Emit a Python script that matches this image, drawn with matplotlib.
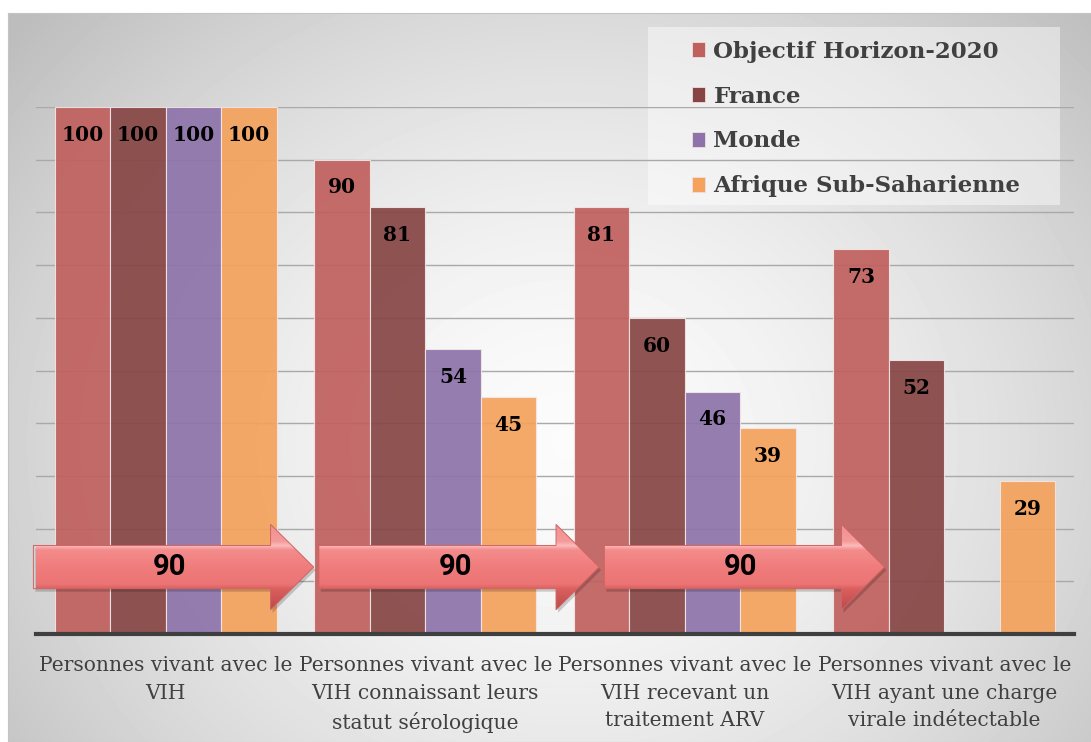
import numpy as np
import matplotlib.pyplot as plt
from matplotlib.patches import Polygon, Rectangle
from matplotlib.colors import LinearSegmentedColormap
from matplotlib.transforms import offset_copy

# --- data ---
categories = [
    "Personnes vivant avec le\nVIH",
    "Personnes vivant avec le\nVIH connaissant leurs\nstatut sérologique",
    "Personnes vivant avec le\nVIH recevant un\ntraitement ARV",
    "Personnes vivant avec le\nVIH ayant une charge\nvirale indétectable",
]
series_names = ["Objectif Horizon-2020", "France", "Monde", "Afrique Sub-Saharienne"]
objectif = [100, 90, 81, 73]
france = [100, 81, 60, 52]
monde = [100, 54, 46, np.nan]
afrique = [100, 45, 39, 29]
targets = [90, 90, 90]
colors = ["#c0605e", "#864544", "#8e73aa", "#f4a25c"]

W, H = 1091, 742
fig = plt.figure(figsize=(W / 100, H / 100), dpi=100)

# background panel with a soft radial gradient
bg = fig.add_axes([8 / W, 0, 1 - 8 / W, 1 - 13 / H], zorder=0)
yy, xx = np.mgrid[0:729, 0:1083]
d = np.sqrt(((xx - 560) / 640) ** 2 + ((yy - 430) / 560) ** 2)
v = np.clip(0.985 - 0.2 * d ** 1.6, 0.74, 1)
bg.imshow(v, cmap="gray", vmin=0, vmax=1, aspect="auto", interpolation="bilinear")
bg.set_xticks([])
bg.set_yticks([])
for s in bg.spines.values():
    s.set_color("#c4c4c4")

# legend backdrop (between background and chart)
fig.patches.append(Rectangle((648 / W, 1 - 205 / H), 412 / W, 178 / H,
                             transform=fig.transFigure, facecolor="white", alpha=0.45,
                             edgecolor="none", zorder=0.5))

# main axes
ax = fig.add_axes([36 / W, 1 - 634 / H, (1074 - 36) / W, (634 - 107) / H], zorder=1)
ax.patch.set_alpha(0)

x = np.arange(len(categories))
w = 0.2139
all_series = [objectif, france, monde, afrique]
handles = []
for j, (vals, c) in enumerate(zip(all_series, colors)):
    pos = x + (j - 1.5) * w
    ax.bar(pos, vals, width=w, color=c, alpha=0.92, edgecolor="#f3e6e6",
           linewidth=0.8, zorder=2)
    handles.append(Rectangle((0, 0), 1, 1, facecolor=c, edgecolor="#f0dede", lw=0.6))
    for px, val in zip(pos, vals):
        if np.isnan(val):
            continue
        ax.annotate(str(int(val)), (px, val), xytext=(0, -20), textcoords="offset points",
                    ha="center", va="center", fontsize=14.5, fontweight="bold",
                    family="DejaVu Serif", color="black", zorder=5)

ax.set_xlim(-0.5, 3.5)
ax.set_ylim(0, 100)
ax.set_yticks(range(0, 101, 10))
ax.yaxis.grid(True, color="#a9a9a9", lw=1)
ax.set_axisbelow(True)
ax.tick_params(axis="y", length=0, labelleft=False)
for s in ["top", "left", "right"]:
    ax.spines[s].set_visible(False)
ax.spines["bottom"].set_color("#3f3f3f")
ax.spines["bottom"].set_linewidth(3)
ax.set_xticks(x)
ax.set_xticklabels(categories, fontsize=14.6, color="#404040", family="DejaVu Serif",
                   linespacing=1.56)
ax.tick_params(axis="x", length=0, pad=16)

# "90" arrows
arrow_cmap = LinearSegmentedColormap.from_list("arr", [
    (0.0, "#bc4848"), (0.25, "#dc6060"), (0.3, "#ec7474"), (0.5, "#f07c7c"),
    (0.7, "#f48c8c"), (0.75, "#fbbcbc"), (0.8, "#f59a9a"), (1.0, "#f29090")])
grad = np.linspace(0, 1, 256).reshape(-1, 1)
L, hl, yc, sh, hh = 1.08, 0.166, 12.7, 4.1, 8.1
shadow_tr = offset_copy(ax.transData, fig=fig, x=2, y=-3, units="dots")
for i, t in enumerate(targets):
    x0 = -0.51 + 1.1 * i
    pts = [(x0, yc - sh), (x0 + L - hl, yc - sh), (x0 + L - hl, yc - hh), (x0 + L, yc),
           (x0 + L - hl, yc + hh), (x0 + L - hl, yc + sh), (x0, yc + sh)]
    ax.add_patch(Polygon(pts, closed=True, facecolor="black", alpha=0.18, lw=0,
                         transform=shadow_tr, zorder=3, clip_on=False))
    poly = Polygon(pts, closed=True, facecolor="none", edgecolor="#d06464", lw=0.7,
                   zorder=4, clip_on=False)
    ax.add_patch(poly)
    im = ax.imshow(grad, extent=[x0, x0 + L, yc - hh, yc + hh], cmap=arrow_cmap,
                   aspect="auto", origin="lower", zorder=3.5)
    im.set_clip_path(poly)
    ax.text(x0 + 0.525, yc, str(t), ha="center", va="center", fontsize=21,
            fontweight="bold", family=["Roboto", "DejaVu Sans"], color="black", zorder=5)

ax.set_xlim(-0.5, 3.5)
ax.set_ylim(0, 100)

# legend
leg = ax.legend(handles, series_names, loc="upper left", bbox_to_anchor=(671 / W, 1 - 20 / H),
                bbox_transform=fig.transFigure, frameon=False,
                prop={"family": "DejaVu Serif", "weight": "bold", "size": 16.5},
                handlelength=0.6, handleheight=0.6, handletextpad=0.35, labelspacing=1.0)
for txt in leg.get_texts():
    txt.set_color("#404040")

fig.savefig("out.png", dpi=100)
